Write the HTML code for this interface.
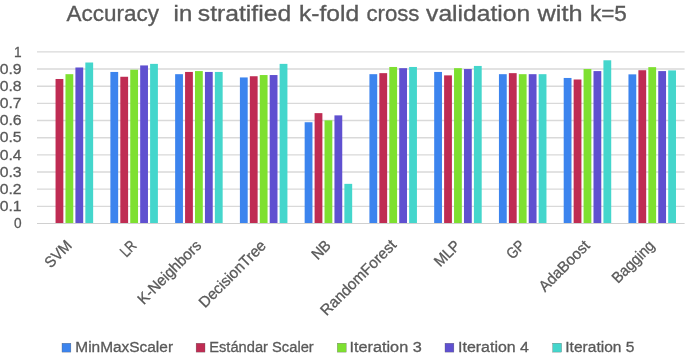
<!DOCTYPE html>
<html lang="en"><head><meta charset="utf-8"><title>Accuracy in stratified k-fold cross validation with k=5</title>
<style>html,body{margin:0;padding:0;background:#fff;}body{width:685px;height:358px;overflow:hidden;}svg{display:block;will-change:transform;opacity:0.999;}text{font-family:'Liberation Sans', sans-serif;fill:#595959;}</style>
</head><body>
<svg width="685" height="358" viewBox="0 0 685 358">
<rect x="0" y="0" width="685" height="358" fill="#ffffff"/>
<g stroke="#D9D9D9" stroke-width="1.4" fill="none">
<line x1="37.00" y1="206.34" x2="684.60" y2="206.34"/>
<line x1="37.00" y1="189.17" x2="684.60" y2="189.17"/>
<line x1="37.00" y1="172.01" x2="684.60" y2="172.01"/>
<line x1="37.00" y1="154.85" x2="684.60" y2="154.85"/>
<line x1="37.00" y1="137.69" x2="684.60" y2="137.69"/>
<line x1="37.00" y1="120.52" x2="684.60" y2="120.52"/>
<line x1="37.00" y1="103.36" x2="684.60" y2="103.36"/>
<line x1="37.00" y1="86.20" x2="684.60" y2="86.20"/>
<line x1="37.00" y1="69.03" x2="684.60" y2="69.03"/>
<line x1="37.00" y1="51.87" x2="684.60" y2="51.87"/>
</g>
<g>
<rect x="55.55" y="78.99" width="7.80" height="144.51" fill="#BF2C53"/>
<rect x="65.48" y="74.18" width="7.80" height="149.32" fill="#7EE030"/>
<rect x="75.41" y="67.49" width="7.80" height="156.01" fill="#5F50D0"/>
<rect x="85.34" y="62.51" width="7.80" height="160.99" fill="#44D6CC"/>
</g>
<g>
<rect x="110.38" y="71.95" width="7.80" height="151.55" fill="#3C84EE"/>
<rect x="120.31" y="76.76" width="7.80" height="146.74" fill="#BF2C53"/>
<rect x="130.24" y="69.72" width="7.80" height="153.78" fill="#7EE030"/>
<rect x="140.17" y="65.43" width="7.80" height="158.07" fill="#5F50D0"/>
<rect x="150.10" y="63.88" width="7.80" height="159.62" fill="#44D6CC"/>
</g>
<g>
<rect x="175.14" y="74.18" width="7.80" height="149.32" fill="#3C84EE"/>
<rect x="185.07" y="71.95" width="7.80" height="151.55" fill="#BF2C53"/>
<rect x="195.00" y="71.09" width="7.80" height="152.41" fill="#7EE030"/>
<rect x="204.93" y="71.95" width="7.80" height="151.55" fill="#5F50D0"/>
<rect x="214.86" y="71.95" width="7.80" height="151.55" fill="#44D6CC"/>
</g>
<g>
<rect x="239.90" y="77.44" width="7.80" height="146.06" fill="#3C84EE"/>
<rect x="249.83" y="76.24" width="7.80" height="147.26" fill="#BF2C53"/>
<rect x="259.76" y="75.04" width="7.80" height="148.46" fill="#7EE030"/>
<rect x="269.69" y="75.04" width="7.80" height="148.46" fill="#5F50D0"/>
<rect x="279.62" y="63.88" width="7.80" height="159.62" fill="#44D6CC"/>
</g>
<g>
<rect x="304.66" y="122.24" width="7.80" height="101.26" fill="#3C84EE"/>
<rect x="314.59" y="113.14" width="7.80" height="110.36" fill="#BF2C53"/>
<rect x="324.52" y="120.35" width="7.80" height="103.15" fill="#7EE030"/>
<rect x="334.45" y="115.37" width="7.80" height="108.13" fill="#5F50D0"/>
<rect x="344.38" y="183.85" width="7.80" height="39.65" fill="#44D6CC"/>
</g>
<g>
<rect x="369.42" y="74.18" width="7.80" height="149.32" fill="#3C84EE"/>
<rect x="379.35" y="73.15" width="7.80" height="150.35" fill="#BF2C53"/>
<rect x="389.28" y="66.97" width="7.80" height="156.53" fill="#7EE030"/>
<rect x="399.21" y="68.17" width="7.80" height="155.33" fill="#5F50D0"/>
<rect x="409.14" y="66.97" width="7.80" height="156.53" fill="#44D6CC"/>
</g>
<g>
<rect x="434.18" y="71.95" width="7.80" height="151.55" fill="#3C84EE"/>
<rect x="444.11" y="75.38" width="7.80" height="148.12" fill="#BF2C53"/>
<rect x="454.04" y="68.17" width="7.80" height="155.33" fill="#7EE030"/>
<rect x="463.97" y="69.03" width="7.80" height="154.47" fill="#5F50D0"/>
<rect x="473.90" y="65.94" width="7.80" height="157.56" fill="#44D6CC"/>
</g>
<g>
<rect x="498.94" y="74.18" width="7.80" height="149.32" fill="#3C84EE"/>
<rect x="508.87" y="73.15" width="7.80" height="150.35" fill="#BF2C53"/>
<rect x="518.80" y="74.18" width="7.80" height="149.32" fill="#7EE030"/>
<rect x="528.73" y="74.18" width="7.80" height="149.32" fill="#5F50D0"/>
<rect x="538.66" y="74.18" width="7.80" height="149.32" fill="#44D6CC"/>
</g>
<g>
<rect x="563.70" y="77.96" width="7.80" height="145.54" fill="#3C84EE"/>
<rect x="573.63" y="79.50" width="7.80" height="144.00" fill="#BF2C53"/>
<rect x="583.56" y="69.03" width="7.80" height="154.47" fill="#7EE030"/>
<rect x="593.49" y="71.09" width="7.80" height="152.41" fill="#5F50D0"/>
<rect x="603.42" y="60.28" width="7.80" height="163.22" fill="#44D6CC"/>
</g>
<g>
<rect x="628.46" y="74.35" width="7.80" height="149.15" fill="#3C84EE"/>
<rect x="638.39" y="70.23" width="7.80" height="153.27" fill="#BF2C53"/>
<rect x="648.32" y="67.15" width="7.80" height="156.35" fill="#7EE030"/>
<rect x="658.25" y="71.09" width="7.80" height="152.41" fill="#5F50D0"/>
<rect x="668.18" y="70.41" width="7.80" height="153.09" fill="#44D6CC"/>
</g>
<line x1="37.00" y1="223.50" x2="684.60" y2="223.50" stroke="#D0D0D0" stroke-width="1.2"/>
<g font-size="15.4" text-anchor="end" stroke="#595959" stroke-width="0.3">
<text x="21.6" y="228.20" textLength="7.6" lengthAdjust="spacingAndGlyphs">0</text>
<text x="21.6" y="211.04" textLength="21.9" lengthAdjust="spacingAndGlyphs">0.1</text>
<text x="21.6" y="193.87" textLength="21.9" lengthAdjust="spacingAndGlyphs">0.2</text>
<text x="21.6" y="176.71" textLength="21.9" lengthAdjust="spacingAndGlyphs">0.3</text>
<text x="21.6" y="159.55" textLength="21.9" lengthAdjust="spacingAndGlyphs">0.4</text>
<text x="21.6" y="142.38" textLength="21.9" lengthAdjust="spacingAndGlyphs">0.5</text>
<text x="21.6" y="125.22" textLength="21.9" lengthAdjust="spacingAndGlyphs">0.6</text>
<text x="21.6" y="108.06" textLength="21.9" lengthAdjust="spacingAndGlyphs">0.7</text>
<text x="21.6" y="90.90" textLength="21.9" lengthAdjust="spacingAndGlyphs">0.8</text>
<text x="21.6" y="73.73" textLength="21.9" lengthAdjust="spacingAndGlyphs">0.9</text>
<text x="21.6" y="56.57" textLength="7.6" lengthAdjust="spacingAndGlyphs">1</text>
</g>
<g font-size="15.4" text-anchor="end" stroke="#595959" stroke-width="0.3">
<text transform="translate(72.68 246.60) rotate(-45)" x="0" y="0" textLength="31.2" lengthAdjust="spacingAndGlyphs">SVM</text>
<text transform="translate(137.44 246.60) rotate(-45)" x="0" y="0" textLength="16.0" lengthAdjust="spacingAndGlyphs">LR</text>
<text transform="translate(202.20 246.60) rotate(-45)" x="0" y="0" textLength="82.8" lengthAdjust="spacingAndGlyphs">K-Neighbors</text>
<text transform="translate(266.96 246.60) rotate(-45)" x="0" y="0" textLength="87.5" lengthAdjust="spacingAndGlyphs">DecisionTree</text>
<text transform="translate(331.72 246.60) rotate(-45)" x="0" y="0" textLength="19.8" lengthAdjust="spacingAndGlyphs">NB</text>
<text transform="translate(397.19 245.89) rotate(-45)" x="0" y="0" textLength="99.9" lengthAdjust="spacingAndGlyphs">RandomForest</text>
<text transform="translate(461.24 246.60) rotate(-45)" x="0" y="0" textLength="29.7" lengthAdjust="spacingAndGlyphs">MLP</text>
<text transform="translate(526.00 246.60) rotate(-45)" x="0" y="0" textLength="19.1" lengthAdjust="spacingAndGlyphs">GP</text>
<text transform="translate(590.76 246.60) rotate(-45)" x="0" y="0" textLength="64.9" lengthAdjust="spacingAndGlyphs">AdaBoost</text>
<text transform="translate(655.52 246.60) rotate(-45)" x="0" y="0" textLength="53.0" lengthAdjust="spacingAndGlyphs">Bagging</text>
</g>
<g font-size="22.8" stroke="#595959" stroke-width="0.35">
<text x="66.58" y="21" textLength="92.32" lengthAdjust="spacingAndGlyphs">Accuracy</text>
<text x="173.61" y="21" textLength="18.61" lengthAdjust="spacingAndGlyphs">in</text>
<text x="197.82" y="21" textLength="93.35" lengthAdjust="spacingAndGlyphs">stratified</text>
<text x="298.95" y="21" textLength="60.21" lengthAdjust="spacingAndGlyphs">k-fold</text>
<text x="366.41" y="21" textLength="53.04" lengthAdjust="spacingAndGlyphs">cross</text>
<text x="426.14" y="21" textLength="103.97" lengthAdjust="spacingAndGlyphs">validation</text>
<text x="537.64" y="21" textLength="44.93" lengthAdjust="spacingAndGlyphs">with</text>
<text x="589.89" y="21" textLength="36.97" lengthAdjust="spacingAndGlyphs">k=5</text>
</g>
<g font-size="15.4" stroke="#595959" stroke-width="0.3">
<rect x="62.0" y="343.2" width="8.9" height="8.9" fill="#3C84EE"/>
<text x="75.29" y="352.3" textLength="97.74" lengthAdjust="spacingAndGlyphs">MinMaxScaler</text>
<rect x="196.1" y="343.2" width="8.9" height="8.9" fill="#BF2C53"/>
<text x="209.20" y="352.3" textLength="104.53" lengthAdjust="spacingAndGlyphs">Estándar Scaler</text>
<rect x="337.3" y="343.2" width="8.9" height="8.9" fill="#7EE030"/>
<text x="349.48" y="352.3" textLength="72.29" lengthAdjust="spacingAndGlyphs">Iteration 3</text>
<rect x="445.0" y="343.2" width="8.9" height="8.9" fill="#5F50D0"/>
<text x="458.09" y="352.3" textLength="70.91" lengthAdjust="spacingAndGlyphs">Iteration 4</text>
<rect x="552.7" y="343.2" width="8.9" height="8.9" fill="#44D6CC"/>
<text x="565.29" y="352.3" textLength="69.15" lengthAdjust="spacingAndGlyphs">Iteration 5</text>
</g>
</svg>
</body></html>
